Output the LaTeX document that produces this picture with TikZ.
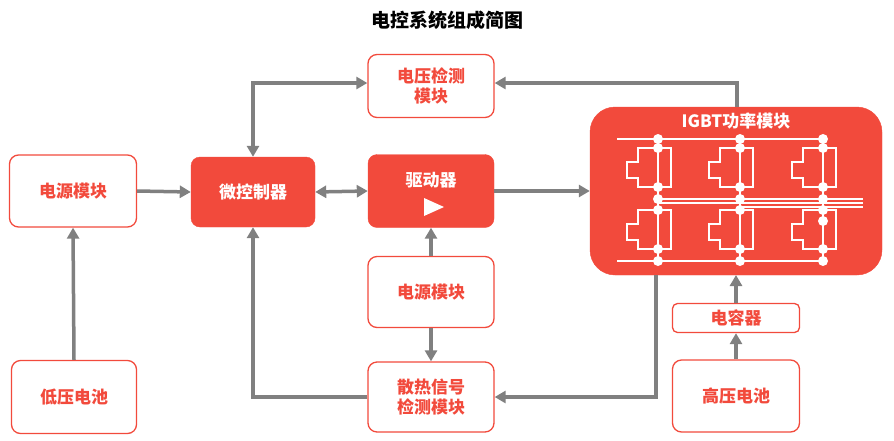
\documentclass[tikz,border=0pt]{standalone}
\usepackage{fontspec}
\setmainfont{Noto Sans CJK SC}
\usetikzlibrary{arrows.meta}
\definecolor{red1}{HTML}{F24A3C}
\definecolor{gr}{HTML}{808080}
\begin{document}
\begin{tikzpicture}[x=1pt,y=-1pt,
 wbox/.style={draw=red1,line width=1.3pt,fill=white,rounded corners=9pt,text=red1,font=\fontsize{17}{20}\selectfont\bfseries,align=center,inner sep=0pt},
 rbox/.style={draw=red1,fill=red1,rounded corners=9pt,text=white,font=\fontsize{17}{20}\selectfont\bfseries,align=center,inner sep=0pt},
 ar/.style={draw=gr,line width=3.5pt,-{Triangle[length=11pt,width=12pt]}},
 dar/.style={draw=gr,line width=3.5pt,{Triangle[length=11pt,width=12pt]}-{Triangle[length=11pt,width=12pt]}},
 wl/.style={draw=white,line width=1.4pt},
 dot/.style={fill=white,draw=none}]
\useasboundingbox (0,0) rectangle (894,440);
\node[font=\fontsize{19}{22}\selectfont\bfseries] (title) at (447,20) {电控系统组成简图};
\node[wbox,minimum width=126pt,minimum height=63pt] (vdet) at (431,86) {电压检测\\模块};
\node[wbox,minimum width=127pt,minimum height=72pt] (psl) at (73,191) {电源模块};
\node[rbox,minimum width=124pt,minimum height=70pt] (mcu) at (253,192) {微控制器};
\node[rbox,minimum width=126pt,minimum height=73pt] (drv) at (431,191) {};
\node[text=white,font=\fontsize{17}{20}\selectfont\bfseries] (drvt) at (431,180) {驱动器};
\fill[white] (424,198) -- (444,207) -- (424,216) -- cycle;
\node[wbox,minimum width=126pt,minimum height=71pt] (psm) at (431,292) {电源模块};
\node[wbox,minimum width=126pt,minimum height=70pt] (heat) at (431,397) {散热信号\\检测模块};
\node[wbox,minimum width=125pt,minimum height=73pt] (lvb) at (74,397) {低压电池};
\node[wbox,minimum width=127pt,minimum height=29pt,rounded corners=5pt] (cap) at (736,318) {电容器};
\node[wbox,minimum width=127pt,minimum height=72pt] (hvb) at (736,396) {高压电池};
\node[rbox,minimum width=292pt,minimum height=168pt,rounded corners=25pt] (igbt) at (736,191) {};
\node[text=white,font=\fontsize{17}{20}\selectfont\bfseries] (igbtt) at (736,121) {IGBT功率模块};
% circuit
\draw[wl] (617,139) -- (823,139);
\draw[wl] (617,261) -- (823,261);
\draw[wl] (658,199) -- (863,199);
\draw[wl] (658,203) -- (863,203);
\draw[wl] (740,207) -- (863,207);
\foreach \cx in {658,740,823}{
 \foreach \ty in {148,210}{
  \draw[wl] (\cx-20,\ty) -- (\cx+13,\ty) -- (\cx+13,\ty+39) -- (\cx-20,\ty+39) -- (\cx-20,\ty+30) -- (\cx-31,\ty+30) -- (\cx-31,\ty+14) -- (\cx-20,\ty+14) -- cycle;
 }
 \draw[wl] (\cx,139) -- (\cx,261);
 \foreach \dy in {139,148,187,199,210,249,261}{\fill[dot] (\cx,\dy) circle (5pt);}
}
\fill[dot] (823,221) circle (5pt);
% connectors
\draw[ar] (psl.east) -- (mcu.west);
\draw[ar] (lvb.north) -- (psl.south);
\draw[dar] (mcu.east) -- (drv.west);
\draw[ar] (drv.east) -- (igbt.west|-drv.east);
\draw[dar] (mcu.north) -- (253,83) -- (vdet.west|-0,83);
\draw[ar] (737,107) -- (737,83) -- (vdet.east|-0,83);
\draw[ar] (psm.north) -- (drv.south);
\draw[ar] (psm.south) -- (heat.north);
\draw[ar] (heat.west) -- (253,397) -- (mcu.south);
\draw[ar] (656,275) -- (656,397) -- (heat.east);
\draw[ar] (hvb.north) -- (cap.south);
\draw[ar] (cap.north) -- (736,275);
\end{tikzpicture}
\end{document}
